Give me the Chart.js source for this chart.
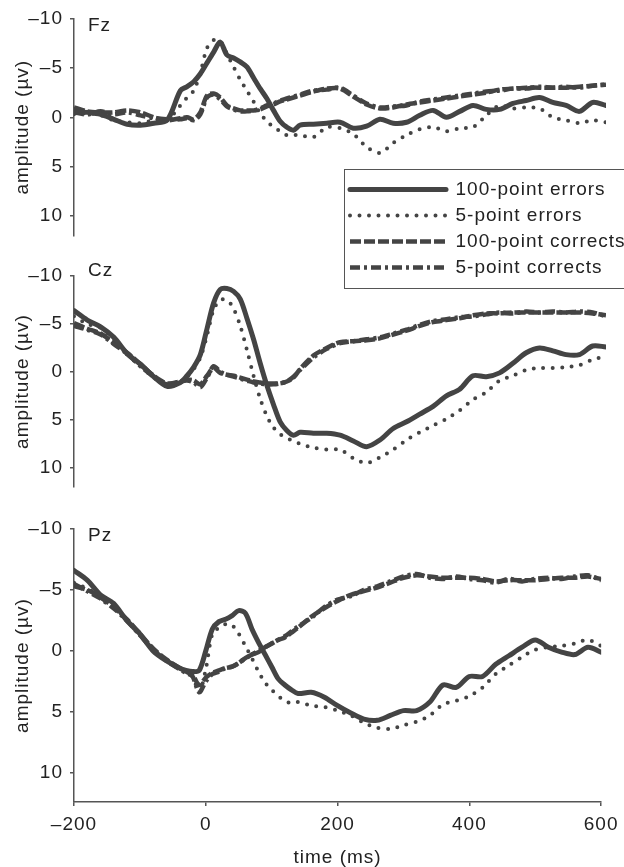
<!DOCTYPE html>
<html>
<head>
<meta charset="utf-8">
<script src="https://cdn.jsdelivr.net/npm/chart.js@4.4.0/dist/chart.umd.min.js"></script>
<style>
  html, body { margin: 0; padding: 0; background: #fff; }
  #wrap { position: relative; width: 624px; height: 867px; }
  #wrap canvas { position: absolute; left: 0; top: 0; }
</style>
</head>
<body>
<div id="wrap">
  <canvas id="pz" width="624" height="867"></canvas>
  <canvas id="cz" width="624" height="867"></canvas>
  <canvas id="fz" width="624" height="867"></canvas>
</div>
<script>
// ERP averages, amplitude in µV (negative plotted up)
const times = [-200, -180, -160, -140, -120, -100, -80, -60,
  -40, -30, -20, -10, 0, 10, 20, 30, 40, 50, 60, 70, 80, 90, 100, 110, 120, 130,
  140, 160, 180, 200, 220, 240, 260, 280, 300, 320, 340, 360, 380, 400, 420, 440, 460, 480, 500, 520, 540, 560, 580, 600];

const seriesNames = ["100-point errors", "5-point errors", "100-point corrects", "5-point corrects"];

// Fz
const fzErr100 = [-0.6, -0.5, -0.3, 0.2, 0.7, 0.8, 0.6, 0.3,
  -2.7, -3.1, -3.6, -4.4, -5.5, -6.6, -7.6, -6.3, -6.0, -5.6, -5.1, -4.0, -2.9, -1.9, -0.7, 0.4, 1.0, 1.3,
  0.8, 0.7, 0.6, 0.5, 1.1, 0.9, 0.2, 0.6, 0.5, -0.2, -0.7, 0.0, -0.6, -1.2, -0.8, -0.8, -1.4, -1.7, -2.0, -1.5, -1.2, -0.6, -1.5, -1.2];
const fzErr5 = [-0.3, -0.4, -0.2, 0.3, 0.5, 0.6, 0.3, 0.3,
  -1.2, -2.0, -2.7, -4.5, -7.0, -7.8, -7.7, -6.4, -5.1, -3.8, -2.7, -1.6, -0.4, 0.4, 1.0, 1.4, 1.8, 1.8,
  1.8, 2.0, 1.0, 1.1, 1.7, 3.0, 3.6, 2.6, 1.8, 1.2, 1.0, 1.4, 1.1, 1.0, -0.2, -1.2, -0.9, -1.0, -0.9, 0.0, 0.3, 0.6, 0.3, 0.5];
const fzCor100 = [-1.0, -0.6, -0.5, -0.5, -0.7, -0.5, 0.0, 0.3,
  0.1, 0.0, 0.2, -0.5, -2.2, -2.4, -2.0, -1.2, -0.9, -0.7, -0.7, -0.7, -0.8, -1.1, -1.3, -1.6, -1.8, -2.0,
  -2.2, -2.6, -2.9, -2.9, -2.1, -1.3, -0.9, -1.0, -1.3, -1.5, -1.7, -1.9, -2.1, -2.3, -2.5, -2.8, -2.9, -3.0, -3.0, -3.0, -3.0, -3.1, -3.2, -3.3];
const fzCor5 = [-0.5, -0.3, -0.6, -0.3, -0.5, -0.2, 0.1, 0.2,
  0.2, 0.1, 0.3, -0.3, -2.0, -2.3, -1.8, -1.1, -0.8, -0.6, -0.6, -0.7, -0.9, -1.2, -1.4, -1.7, -1.9, -2.1,
  -2.3, -2.7, -2.8, -3.0, -2.2, -1.4, -1.0, -1.1, -1.2, -1.6, -1.8, -2.0, -2.2, -2.4, -2.6, -2.7, -2.9, -2.9, -3.1, -3.0, -3.1, -3.0, -3.2, -3.3];

// Cz
const czErr100 = [-6.4, -5.4, -4.7, -3.6, -1.9, -0.8, 0.5, 1.5,
  1.1, 0.4, -0.5, -1.8, -4.5, -7.2, -8.6, -8.7, -8.4, -7.6, -5.6, -3.4, -0.9, 1.4, 3.4, 5.2, 6.1, 6.6,
  6.3, 6.4, 6.4, 6.6, 7.2, 7.8, 7.1, 5.9, 5.2, 4.4, 3.6, 2.5, 1.8, 0.4, 0.5, 0.1, -0.9, -2.0, -2.5, -2.2, -1.8, -1.8, -2.7, -2.6];
const czErr5 = [-5.8, -5.0, -4.6, -3.4, -1.8, -0.6, 0.6, 1.4,
  1.1, 0.5, -0.3, -1.5, -3.8, -6.5, -7.5, -7.5, -6.6, -4.8, -2.3, 0.4, 2.8, 4.6, 5.8, 6.5, 6.9, 7.2,
  7.5, 7.9, 8.1, 8.1, 9.0, 9.5, 8.9, 8.1, 7.1, 6.3, 5.6, 4.9, 4.0, 2.9, 2.1, 0.9, 0.4, -0.2, -0.4, -0.4, -0.5, -0.7, -1.3, -1.6];
const czCor100 = [-5.1, -4.5, -4.0, -3.0, -2.0, -0.8, 0.4, 1.2,
  1.0, 0.8, 0.9, 1.3, 0.4, -0.4, 0.1, 0.3, 0.4, 0.6, 0.8, 1.0, 1.1, 1.2, 1.2, 1.2, 1.0, 0.6,
  -0.3, -1.7, -2.5, -3.1, -3.2, -3.3, -3.5, -3.9, -4.3, -4.8, -5.2, -5.4, -5.6, -5.9, -6.1, -6.1, -6.2, -6.2, -6.2, -6.2, -6.2, -6.2, -6.1, -5.9];
const czCor5 = [-4.8, -4.4, -3.9, -2.9, -1.9, -0.6, 0.5, 1.3,
  1.0, 0.9, 1.1, 1.6, 0.6, -0.6, 0.0, 0.3, 0.5, 0.7, 0.9, 1.1, 1.2, 1.3, 1.3, 1.2, 1.0, 0.5,
  -0.2, -1.5, -2.4, -3.0, -3.2, -3.4, -3.6, -4.0, -4.4, -4.9, -5.3, -5.5, -5.7, -5.8, -6.0, -6.2, -6.1, -6.3, -6.2, -6.3, -6.2, -6.3, -6.2, -5.8];

// Pz
const pzErr100 = [-6.6, -5.8, -4.6, -3.9, -2.5, -1.4, 0.0, 0.8,
  1.4, 1.6, 1.7, 1.6, 0.0, -1.8, -2.4, -2.6, -2.9, -3.3, -3.1, -1.8, -0.7, 0.3, 1.3, 2.3, 2.8, 3.2,
  3.5, 3.4, 3.8, 4.5, 5.1, 5.6, 5.7, 5.3, 4.9, 4.9, 4.2, 2.8, 3.0, 2.1, 2.1, 1.1, 0.4, -0.3, -0.9, -0.3, 0.1, 0.3, -0.3, 0.1];
const pzErr5 = [-5.6, -5.1, -4.5, -3.6, -2.6, -1.3, 0.0, 0.8,
  1.5, 1.8, 2.1, 3.4, 1.5, -1.4, -1.9, -2.2, -2.1, -1.4, -0.4, 0.6, 1.7, 2.6, 3.2, 3.7, 4.1, 4.3,
  4.2, 4.5, 4.6, 4.9, 5.3, 5.9, 6.3, 6.4, 6.1, 5.8, 5.3, 4.4, 4.1, 3.7, 3.0, 1.9, 1.2, 0.5, -0.1, -0.3, -0.4, -0.6, -0.9, -0.4];
const pzCor100 = [-5.3, -5.0, -4.4, -3.6, -2.6, -1.4, -0.2, 0.7,
  1.4, 1.7, 2.0, 2.8, 2.2, 1.8, 1.6, 1.4, 1.3, 1.0, 0.6, 0.3, 0.1, -0.3, -0.6, -0.9, -1.1, -1.5,
  -1.9, -2.8, -3.5, -4.1, -4.6, -4.9, -5.2, -5.6, -6.0, -6.2, -6.1, -6.0, -6.0, -6.0, -5.9, -5.7, -5.8, -5.8, -5.8, -5.9, -6.0, -6.0, -6.1, -5.9];
const pzCor5 = [-5.5, -4.9, -4.3, -3.5, -2.5, -1.3, -0.1, 0.8,
  1.5, 1.8, 2.1, 3.4, 2.5, 1.9, 1.7, 1.4, 1.3, 1.0, 0.6, 0.3, 0.0, -0.3, -0.6, -0.9, -1.2, -1.6,
  -2.0, -2.7, -3.6, -4.2, -4.5, -5.0, -5.3, -5.7, -6.1, -6.3, -6.0, -5.9, -6.1, -5.9, -5.8, -5.6, -5.9, -5.7, -5.9, -6.0, -5.9, -6.1, -6.2, -5.8];

const xTicks = [-200, 0, 200, 400, 600];
const yTicks = [-10, -5, 0, 5, 10];

//-------------------------------------
// Look & layout
//-------------------------------------
const FONT = "'Liberation Sans', Arial, Helvetica, sans-serif";
const INK = "#444";
const TEXT = "#222";
const AXIS = "#555";
const W = 624, H = 867;
const LEFT = 74, RIGHT = 606, PAD_L = 11;

// one entry per series: solid, dotted, dashed, dash-dot
const LINE_STYLES = [
  { borderWidth: 5, borderDash: [], borderCapStyle: "round" },
  { borderWidth: 4, borderDash: [0, 9.5], borderCapStyle: "round" },
  { borderWidth: 4.5, borderDash: [11, 3], borderCapStyle: "butt" },
  { borderWidth: 4.5, borderDash: [10, 4, 3, 4], borderCapStyle: "butt" },
];

const panels = [
  { id: "fz", name: "Fz", series: [fzErr100, fzErr5, fzCor100, fzCor5], top: 14, bottom: 236, yMax: 12, labelDy: 7, legend: true },
  { id: "cz", name: "Cz", series: [czErr100, czErr5, czCor100, czCor5], top: 276, bottom: 487, yMax: 12, labelDy: -5 },
  { id: "pz", name: "Pz", series: [pzErr100, pzErr5, pzCor100, pzCor5], top: 529, bottom: 802, yMax: 12.4, labelDy: 7, xAxis: true },
];

const fmtTick = (v) => (v < 0 ? "\u2013" + Math.abs(v) : String(v));

//-------------------------------------
// Small plugins
//-------------------------------------
// wider type, like the stretched original
const letterSpace = {
  id: "letterSpace",
  beforeDraw(c) { c.ctx.letterSpacing = "1px"; },
};

const panelLabel = {
  id: "panelLabel",
  afterDraw(c, args, o) {
    const { ctx, chartArea } = c;
    ctx.save();
    ctx.font = `19px ${FONT}`;
    ctx.fillStyle = TEXT;
    ctx.textBaseline = "middle";
    ctx.fillText(o.text, chartArea.left + 14, chartArea.top + o.dy);
    ctx.restore();
  },
};

// move the legend over the Fz/Cz gap and frame it
const legendBox = {
  id: "legendBox",
  afterLayout(c) {
    const lg = c.legend;
    lg.left = 343; lg.top = 173;
    lg.width = 330; lg.height = 130;
    lg.right = lg.left + lg.width; lg.bottom = lg.top + lg.height;
  },
  afterDraw(c) {
    const ctx = c.ctx;
    ctx.save();
    ctx.setLineDash([]);
    ctx.strokeStyle = AXIS;
    ctx.lineWidth = 1;
    ctx.strokeRect(344.5, 169.5, 320, 119);
    ctx.restore();
  },
};

// legend samples take the line's dash, not the point's
function lineLabels(chart) {
  const base = Chart.defaults.plugins.legend.labels.generateLabels(chart);
  return base.map((item) => {
    const ds = chart.data.datasets[item.datasetIndex];
    return { ...item, lineDash: ds.borderDash, lineCap: ds.borderCapStyle, lineWidth: ds.borderWidth, strokeStyle: ds.borderColor };
  });
}

//-------------------------------------
// Charts
//-------------------------------------
Chart.defaults.font.family = FONT;
Chart.defaults.font.size = 19;
Chart.defaults.color = TEXT;

const axisGrid = { drawOnChartArea: false, drawTicks: true, tickLength: 4, color: AXIS, lineWidth: 1.5 };
const axisBorder = { display: true, color: AXIS, width: 1.5 };

function makePanel(p) {
  const datasets = p.series.map((vals, i) => ({
    label: seriesNames[i],
    data: times.map((t, k) => ({ x: t, y: vals[k] })),
    borderColor: INK,
    backgroundColor: INK,
    borderJoinStyle: "round",
    pointRadius: 0,
    tension: 0.3,
    fill: false,
    ...LINE_STYLES[i],
  }));

  return new Chart(document.getElementById(p.id), {
    type: "line",
    data: { datasets },
    options: {
      responsive: false,
      animation: false,
      events: [],
      layout: {
        padding: { left: PAD_L, right: W - RIGHT, top: p.top, bottom: p.xAxis ? 0 : H - p.bottom },
      },
      scales: {
        x: {
          type: "linear",
          min: -200,
          max: 600,
          display: !!p.xAxis,
          afterBuildTicks: (s) => { s.ticks = xTicks.map((v) => ({ value: v })); },
          afterFit: (s) => { if (p.xAxis) s.height = H - p.bottom; },
          ticks: { color: TEXT, padding: 7, maxRotation: 0, autoSkip: false, callback: fmtTick },
          grid: axisGrid,
          border: axisBorder,
          title: { display: true, text: "time (ms)", color: TEXT, font: { size: 19, lineHeight: 1 }, padding: 0 },
        },
        y: {
          type: "linear",
          reverse: true,
          min: -10,
          max: p.yMax,
          afterBuildTicks: (s) => { s.ticks = yTicks.map((v) => ({ value: v })); },
          afterFit: (s) => { s.width = LEFT - PAD_L; },
          ticks: { color: TEXT, padding: 7, callback: fmtTick },
          grid: axisGrid,
          border: axisBorder,
          title: { display: true, text: "amplitude (\u00b5v)", color: TEXT, font: { size: 19 }, padding: 0 },
        },
      },
      plugins: {
        legend: p.legend
          ? {
              display: true,
              position: "chartArea",
              align: "start",
              labels: {
                usePointStyle: true,
                pointStyle: "line",
                pointStyleWidth: 96,
                padding: 7,
                color: TEXT,
                font: { size: 19 },
                generateLabels: lineLabels,
              },
            }
          : { display: false },
        tooltip: { enabled: false },
        panelLabel: { text: p.name, dy: p.labelDy },
      },
    },
    plugins: [letterSpace, panelLabel, ...(p.legend ? [legendBox] : [])],
  });
}

panels.forEach(makePanel);
</script>
</body>
</html>
